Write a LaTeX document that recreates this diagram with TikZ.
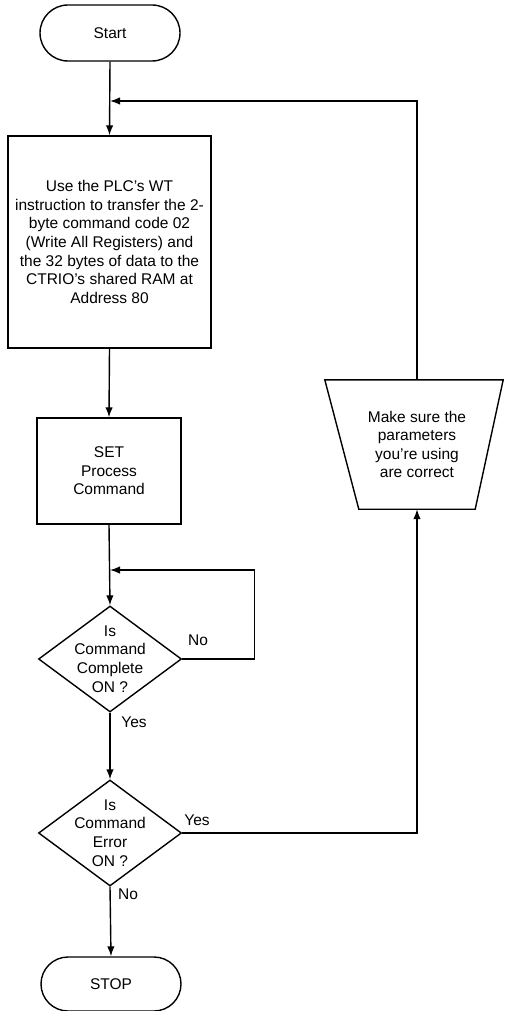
\documentclass[tikz,border=0pt]{standalone}
\usepackage{fontspec}
\setmainfont{Liberation Sans}
\usetikzlibrary{shapes.geometric,shapes.misc,arrows.meta,calc}
\begin{document}
\begin{tikzpicture}[x=1pt,y=-1pt,
  every node/.style={font=\fontsize{15.5}{18.6}\selectfont},
  term/.style={draw,line width=1.4pt,rounded rectangle,minimum width=140pt,minimum height=56pt,inner sep=0pt},
  proc/.style={draw,line width=1.4pt,rectangle,inner sep=0pt,align=center},
  dec/.style={draw,line width=1.4pt,diamond,minimum width=143pt,minimum height=106pt,inner sep=0pt},
  lbl/.style={inner sep=1pt},
  flow/.style={line width=1.4pt,-{Latex[length=10pt,width=7.5pt]}},
  plain/.style={line width=1.4pt}]
\useasboundingbox (0,0) rectangle (504,1011);

\node[term] (start) at (110,33) {Start};
\node[proc,minimum width=203pt,minimum height=212pt] (box1) at (109.5,242)
  {Use the PLC’s WT\\instruction to transfer the 2-\\byte command code 02\\(Write All Registers) and\\the 32 bytes of data to the\\CTRIO’s shared RAM at\\Address 80};
\node[proc,minimum width=144pt,minimum height=106pt] (box2) at (109,471) {SET\\Process\\Command};
\node[dec,label={[align=center,font=\fontsize{15.5}{18.6}\selectfont]center:Is\\Command\\Complete\\ON ?}] (d1) at (110,659) {};
\node[dec,label={[align=center,font=\fontsize{15.5}{18.6}\selectfont]center:Is\\Command\\Error\\ON ?}] (d2) at (110,833) {};
\node[term,minimum height=54pt] (stop) at (111,984) {STOP};

\node[rectangle,minimum width=116pt,minimum height=129pt,inner sep=0pt,align=center] (trap) at (417,444.5)
  {Make sure the\\parameters\\you’re using\\are correct};
\draw[line width=1.4pt,line join=miter] (trap.south west) -- (trap.south east)
  -- ($(trap.north east)+(28,0)$) -- ($(trap.north west)+(-34,0)$) -- cycle;

\coordinate (m1) at (110,101);
\coordinate (m2) at (110,570);

\draw[flow] (start.south) -- (box1.north);
\draw[flow] (trap.north) |- (m1);
\draw[flow] (box1.south) -- (box2.north);
\draw[flow] (box2.south) -- (d1.north);
\draw[flow] (d1.east) -- ++(72,0) |- (m2);
\draw[flow] (d1.south) -- (d2.north);
\draw[flow] (d2.east) -| (trap.south);
\draw[flow] (d2.south) -- (stop.north);

\node[lbl] (no1) at (198,640) {No};
\node[lbl] (yes1) at (134,722) {Yes};
\node[lbl] (yes2) at (197,820) {Yes};
\node[lbl] (no2) at (128,894) {No};
\end{tikzpicture}
\end{document}
